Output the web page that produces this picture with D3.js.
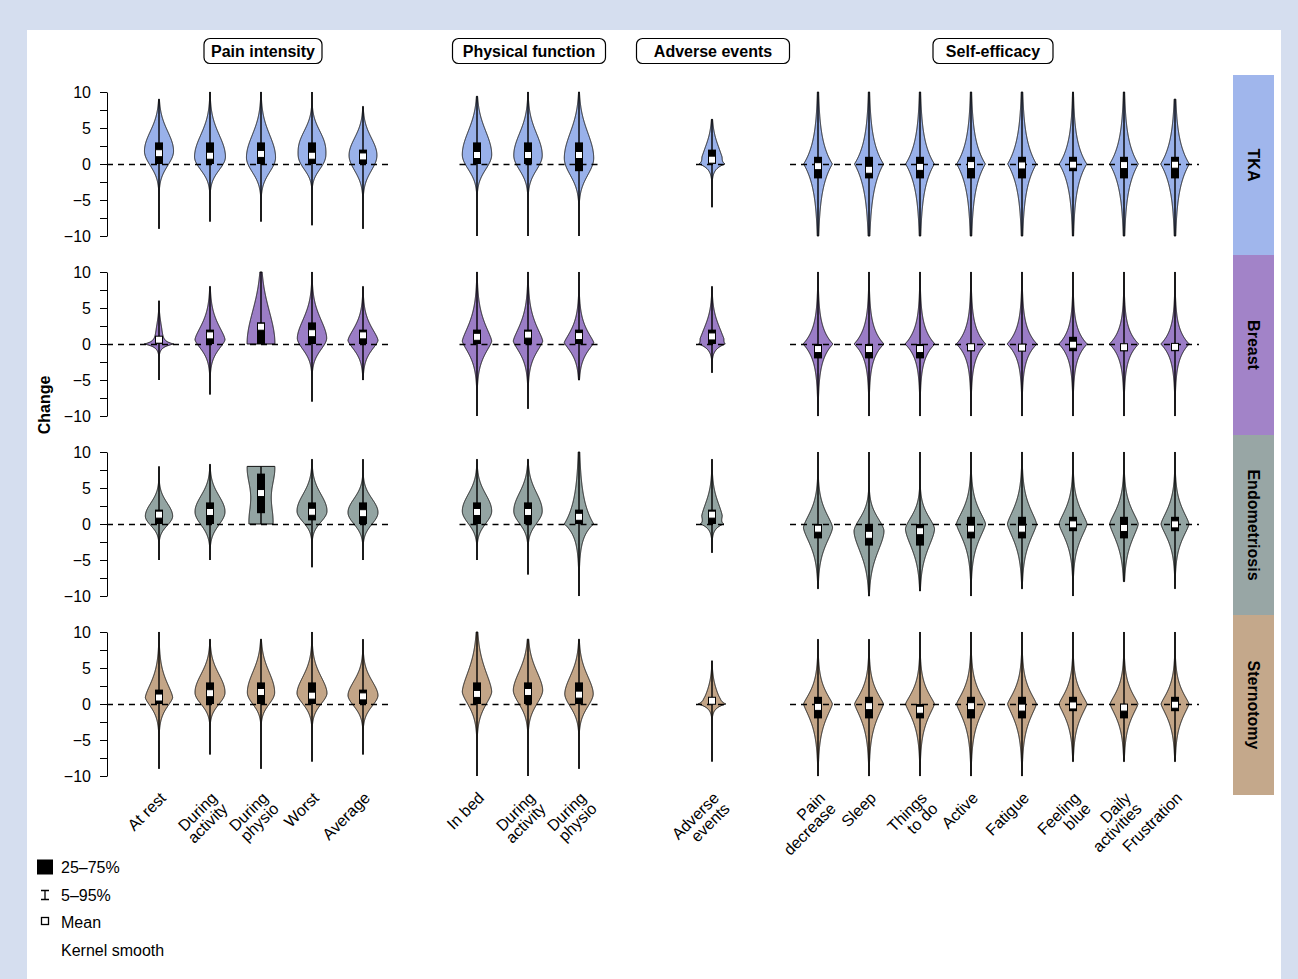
<!DOCTYPE html>
<html>
<head>
<meta charset="utf-8">
<script src="https://cdn.jsdelivr.net/npm/d3@7"></script>
<style>
  body { margin: 0; background: #fff; }
  svg { display: block; }
  text { font-family: "Liberation Sans", Arial, Helvetica, sans-serif; fill: #000; }
</style>
</head>
<body>
<svg id="chart" width="1298" height="979"></svg>
<script>
// ---- data -------------------------------------------------------------
const groups = ["Pain intensity", "Physical function", "Adverse events", "Self-efficacy"];
const groupSizes = [5, 3, 1, 8];
const categories = [
  "At rest", "During\nactivity", "During\nphysio", "Worst", "Average",
  "In bed", "During\nactivity", "During\nphysio",
  "Adverse\nevents",
  "Pain\ndecrease", "Sleep", "Things\nto do", "Active", "Fatigue", "Feeling\nblue", "Daily\nactivities", "Frustration"
];
const cohorts = ["TKA", "Breast", "Endometriosis", "Sternotomy"];
const yTickValues = [-10, -7.5, -5, -2.5, 0, 2.5, 5, 7.5, 10];
const yLabelled = [-10, -5, 0, 5, 10];

// 5th / 95th percentiles (whiskers), one row per cohort
const p5 = [
  [-9, -8, -8, -8.5, -9, -10, -10, -10, -6, -10, -10, -10, -10, -10, -10, -10, -10],
  [-5, -7, 0, -8, -5, -10, -9, -5, -4, -10, -10, -10, -10, -10, -10, -10, -10],
  [-5, -5, 0, -6, -5, -5, -7, -10, -4, -9, -10, -9.3, -10, -9, -10, -8, -9],
  [-9, -7, -9, -8, -7, -10, -10, -9, -8, -10, -10, -10, -10, -10, -8, -8, -8]
];
const p95 = [
  [9, 10, 10, 10, 8, 9.4, 10, 10, 6.2, 10, 10, 10, 10, 10, 10, 10, 9],
  [6, 8, 10, 10, 8, 10, 10, 10, 8, 10, 10, 10, 10, 10, 10, 10, 10],
  [8, 8.3, 8, 9, 9, 9, 9, 10, 9, 10, 10, 10, 10, 10, 10, 10, 10],
  [10, 9, 9, 10, 9, 10, 9, 9, 6, 9, 9, 10, 10, 10, 10, 10, 10]
];
// interquartile range
const q25 = [
  [0, 0, 0, 0, 0, 0, 0, -1, 0, -2, -2, -2, -2, -2, -1, -2, -2],
  [0, 0, 0, 0, 0, 0, 0, 0, 0, -2, -2, -2, -1, -1, -1, -1, -1],
  [0, 0, 1.5, 0.5, 0, 0, 0, 0, 0, -2, -3, -3, -2, -2, -1, -2, -1],
  [0, 0, 0, 0, 0, 0, 0, 0, 0, -2, -2, -2, -2, -2, -1, -2, -1]
];
const q75 = [
  [3, 3, 3, 3, 2, 3, 3, 3, 2, 1, 1, 1, 1, 1, 1, 1, 1],
  [1, 2, 3, 3, 2, 2, 2, 2, 2, 0, 0, 0, 0, 0, 1, 0, 0],
  [2, 3, 7, 3, 3, 3, 3, 2, 2, 0, 0, 0, 1, 1, 1, 1, 1],
  [2, 3, 3, 3, 2, 3, 3, 3, 0.9, 1, 1, 0, 1, 1, 1, 0, 1]
];
const means = [
  [1.5, 1.15, 1.4, 1.15, 1.05, 1.25, 1.25, 1.25, 0.6, -0.3, -0.8, -0.4, -0.15, -0.2, -0.1, -0.15, -0.1],
  [0.6, 1.2, 2.4, 1.5, 1.2, 1.0, 1.3, 1.1, 1.05, -0.7, -0.7, -0.7, -0.45, -0.5, -0.1, -0.45, -0.4],
  [1.3, 1.67, 4.3, 1.7, 1.5, 1.67, 1.67, 1.0, 1.3, -0.65, -1.5, -1.0, -0.65, -0.65, -0.05, -0.55, -0.05],
  [0.9, 1.5, 1.67, 1.16, 1.06, 1.4, 1.67, 1.3, 0.45, -0.4, -0.3, -0.8, -0.3, -0.5, -0.2, -0.5, -0.1]
];

// Kernel-smoothed density of each distribution, described as a sum of
// bumps: [centre, peak density, spread above, spread below, exponent]
const kernelTKA = [
  [[1.8, 0.97, 2.7, 2.0, 2]],
  [[1.0, 1.03, 3.0, 1.8, 2]],
  [[0.9, 0.97, 3.1, 2.0, 2]],
  [[1.5, 0.93, 2.9, 2.1, 2.4]],
  [[1.2, 0.93, 2.4, 2.1, 2]],
  [[1.3, 0.98, 3.2, 2.0, 2]],
  [[1.2, 0.95, 3.0, 2.0, 2]],
  [[0.8, 0.98, 3.5, 2.3, 2]],
  [[1.0, 0.6, 1.8, 1.0, 1.6], [0, 0.5, 0.25, 0.25, 1]],
  [[0, 0.96, 1.6, 1.7, 1]],
  [[0, 0.97, 1.6, 1.8, 1]],
  [[0, 0.96, 1.6, 1.7, 1]],
  [[0, 0.96, 1.6, 1.7, 1]],
  [[0, 0.96, 1.7, 1.7, 1]],
  [[0, 0.92, 1.5, 1.6, 1]],
  [[0, 0.96, 1.6, 1.7, 1]],
  [[0, 0.96, 1.6, 1.7, 1]]
];
const kernelBreast = [
  [[1.0, 0.22, 1.8, 1.0, 2], [0, 0.85, 0.2, 0.2, 1]],
  [[0.6, 1.0, 1.9, 1.3, 1.5]],
  [[0, 0.93, 4.5, 1.0, 2]],
  [[0.8, 0.98, 2.6, 1.6, 1.8]],
  [[0.5, 1.0, 1.7, 1.3, 1.5]],
  [[0.4, 0.98, 2.1, 1.6, 1.4]],
  [[0.4, 0.98, 2.0, 1.5, 1.4]],
  [[0.2, 0.98, 1.5, 1.2, 1.3]],
  [[0.8, 0.7, 1.9, 0.9, 1.6], [0, 0.42, 0.25, 0.25, 1]],
  [[0, 1.0, 1.1, 1.1, 1]],
  [[0, 1.0, 1.1, 1.0, 1]],
  [[0, 1.0, 1.1, 1.0, 1]],
  [[0, 0.98, 1.1, 1.0, 1]],
  [[0, 1.0, 1.1, 1.0, 1]],
  [[0, 0.95, 1.0, 1.0, 1]],
  [[0, 0.98, 1.0, 1.0, 1]],
  [[0, 0.95, 1.0, 1.0, 1]]
];
const kernelEndo = [
  [[1.1, 0.91, 1.8, 1.3, 2]],
  [[1.7, 1.0, 2.2, 1.8, 2]],
  [[0, 0.78, 3, 3, 2], [8, 0.9, 3, 3, 2]],
  [[1.8, 1.0, 2.3, 1.5, 2]],
  [[1.6, 1.0, 1.9, 1.6, 2]],
  [[1.8, 0.98, 2.3, 1.7, 2]],
  [[1.8, 0.95, 2.5, 1.7, 2]],
  [[0, 0.98, 1.7, 0.9, 1]],
  [[1.2, 0.64, 1.9, 1.0, 1.6], [0, 0.45, 0.25, 0.25, 1]],
  [[-0.5, 0.97, 1.9, 2.1, 1.5]],
  [[-1.0, 1.0, 1.8, 2.8, 1.7]],
  [[-0.7, 0.97, 1.7, 2.5, 1.6]],
  [[0, 0.97, 1.8, 2.0, 1.4]],
  [[0, 0.97, 2.0, 2.1, 1.4]],
  [[0, 0.93, 1.8, 1.9, 1.4]],
  [[0, 0.95, 1.8, 2.1, 1.4]],
  [[0, 0.93, 1.8, 1.8, 1.4]]
];
const kernelStern = [
  [[0.9, 0.91, 2.0, 1.3, 1.5]],
  [[1.6, 1.0, 2.5, 1.6, 2]],
  [[1.6, 0.91, 2.8, 1.6, 2]],
  [[1.5, 1.0, 2.3, 1.5, 1.8]],
  [[1.2, 1.0, 2.0, 1.5, 1.8]],
  [[1.7, 0.98, 2.8, 1.8, 1.6]],
  [[1.9, 0.98, 2.6, 1.9, 1.8]],
  [[1.4, 0.95, 2.5, 1.8, 1.8]],
  [[0.8, 0.4, 1.5, 0.8, 1.6], [0, 0.68, 0.25, 0.25, 1]],
  [[0, 0.96, 1.5, 1.9, 1.3]],
  [[0, 0.96, 1.5, 1.9, 1.3]],
  [[0, 0.96, 1.5, 1.8, 1.3]],
  [[0, 0.96, 1.6, 1.9, 1.3]],
  [[0, 0.96, 1.6, 1.9, 1.3]],
  [[0, 0.93, 1.5, 1.7, 1.3]],
  [[0, 0.93, 1.5, 1.7, 1.3]],
  [[0, 0.93, 1.5, 1.7, 1.3]]
];
const kernels = [kernelTKA, kernelBreast, kernelEndo, kernelStern];

const violinFill = ["#99b1ea", "#9b7dc6", "#93a4a2", "#c3a587"];
const stripFill  = ["#a0b6ec", "#a283c8", "#98a6a5", "#c4a88b"];

// ---- layout -----------------------------------------------------------
const W = 1298, H = 979;
const rowTop = 92, rowH = 144, rowGap = 180;
const axisX = 107;
const step = 51;
const groupCentre = [261, 528, 712, 996.5];
const headerW = [118, 153, 153, 120];
const zeroPad = [[52, 27], [17.5, 20], [16, 17], [28, 24]];
const stripX = 1233, stripW = 41;
const maxHalf = 15;

const svg = d3.select("#chart");

// page frame
svg.append("rect").attr("width", W).attr("height", H).attr("fill", "#d5deef");
svg.append("rect").attr("x", 27).attr("y", 30).attr("width", 1254).attr("height", H - 30).attr("fill", "#fff");

// x scales, one per group
let offset = 0;
const groupInfo = groups.map((g, gi) => {
  const cats = d3.range(offset, offset + groupSizes[gi]);
  offset += groupSizes[gi];
  const half = step * (cats.length - 1) / 2;
  const x = d3.scalePoint().domain(cats).range([groupCentre[gi] - half, groupCentre[gi] + half]);
  return { name: g, cats, x };
});
const xOf = i => { const g = groupInfo.find(G => G.cats.includes(i)); return g.x(i); };

const halfWidth = d3.scaleLinear().domain([0, 1]).range([0, maxHalf]);

function density(comps, v) {
  let s = 0;
  for (const [c, a, su, sd, p] of comps) {
    const sc = v >= c ? su : sd;
    s += a * Math.exp(-0.5 * Math.pow(Math.abs(v - c) / sc, p));
  }
  return s;
}

// group headers
groupInfo.forEach((g, gi) => {
  const cx = groupCentre[gi] + (gi === 0 ? 2 : gi === 3 ? -3.5 : 1);
  const hg = svg.append("g");
  hg.append("rect")
    .attr("x", cx - headerW[gi] / 2).attr("y", 38.5)
    .attr("width", headerW[gi]).attr("height", 25)
    .attr("rx", 6).attr("fill", "#fff").attr("stroke", "#000").attr("stroke-width", 1.2);
  hg.append("text").attr("x", cx).attr("y", 56.5)
    .attr("text-anchor", "middle").attr("font-weight", "bold").attr("font-size", 16)
    .text(g.name);
});

// rows
cohorts.forEach((cohort, r) => {
  const top = rowTop + r * rowGap;
  const y = d3.scaleLinear().domain([-10, 10]).range([top + rowH, top]);
  const row = svg.append("g");

  // y axis
  const axis = d3.axisLeft(y).tickValues(yTickValues)
    .tickFormat(d => yLabelled.includes(d) ? d3.format("d")(d) : "")
    .tickSize(7).tickSizeOuter(0).tickPadding(9);
  const ag = row.append("g").attr("transform", `translate(${axisX},0)`).call(axis);
  ag.selectAll("text").attr("font-size", 16).attr("font-family", "'Liberation Sans', Arial, sans-serif");
  ag.selectAll("path,line").attr("stroke", "#000").attr("stroke-width", 1);

  // violins
  const vg = row.append("g");
  categories.forEach((cat, i) => {
    const cx = xOf(i);
    const lo = p5[r][i], hi = p95[r][i];
    const comps = kernels[r][i];
    const pts = d3.range(lo, hi, 0.04).concat([hi]).map(v => ({ v, w: halfWidth(density(comps, v)) }));
    const area = d3.area()
      .x0(d => cx - d.w).x1(d => cx + d.w).y(d => y(d.v))
      .curve(d3.curveLinear);
    vg.append("path").attr("d", area(pts))
      .attr("fill", violinFill[r]).attr("stroke", "#111").attr("stroke-width", 1)
      .attr("stroke-linejoin", "round");
  });

  // zero reference lines
  const y0 = Math.round(y(0)) + 0.5;
  groupInfo.forEach((g, gi) => {
    const x0 = g.x(g.cats[0]) - zeroPad[gi][0];
    const x1 = g.x(g.cats[g.cats.length - 1]) + zeroPad[gi][1];
    row.append("line").attr("x1", x0).attr("x2", x1).attr("y1", y0).attr("y2", y0)
      .attr("stroke", "#000").attr("stroke-width", 1.3).attr("stroke-dasharray", "6,5");
  });

  // whiskers, boxes and means
  const mg = row.append("g");
  categories.forEach((cat, i) => {
    const cx = xOf(i);
    mg.append("line").attr("x1", cx).attr("x2", cx)
      .attr("y1", y(p95[r][i])).attr("y2", y(p5[r][i]))
      .attr("stroke", "#000").attr("stroke-width", 1.4);
    mg.append("rect").attr("x", cx - 4).attr("width", 8)
      .attr("y", y(q75[r][i])).attr("height", y(q25[r][i]) - y(q75[r][i]))
      .attr("fill", "#000");
    mg.append("rect").attr("x", cx - 3.5).attr("width", 7)
      .attr("y", y(means[r][i]) - 3.5).attr("height", 7)
      .attr("fill", "#fff").attr("stroke", "#000").attr("stroke-width", 1);
  });

  // cohort strip
  const sy = top - 17;
  row.append("rect").attr("x", stripX).attr("y", sy).attr("width", stripW).attr("height", rowGap)
    .attr("fill", stripFill[r]);
  row.append("text")
    .attr("transform", `translate(${stripX + stripW / 2},${sy + rowGap / 2}) rotate(90)`)
    .attr("text-anchor", "middle").attr("dominant-baseline", "central")
    .attr("font-weight", "bold").attr("font-size", 16).text(cohort);
});

// x labels
const lastTop = rowTop + 3 * rowGap + rowH;
categories.forEach((cat, i) => {
  const cx = xOf(i);
  const t = svg.append("text")
    .attr("transform", `translate(${cx + 8},${lastTop + 23}) rotate(-45)`)
    .attr("text-anchor", "end").attr("font-size", 16);
  cat.split("\n").forEach((line, k) => {
    t.append("tspan").attr("x", 0).attr("dy", k ? "0.95em" : 0).text(line);
  });
});

// y title
svg.append("text").attr("transform", "translate(50,405) rotate(-90)")
  .attr("text-anchor", "middle").attr("font-weight", "bold").attr("font-size", 16).text("Change");

// legend
const lg = svg.append("g");
lg.append("rect").attr("x", 37).attr("y", 859.5).attr("width", 16).attr("height", 15).attr("fill", "#000");
lg.append("path").attr("d", "M41,890.5H49M45,890.5V899.5M41,899.5H49")
  .attr("stroke", "#000").attr("stroke-width", 1.3).attr("fill", "none");
lg.append("rect").attr("x", 41.5).attr("y", 917.5).attr("width", 7).attr("height", 7)
  .attr("fill", "#fff").attr("stroke", "#000").attr("stroke-width", 1.3);
["25–75%", "5–95%", "Mean", "Kernel smooth"].forEach((s, k) => {
  lg.append("text").attr("x", 61).attr("y", 873 + k * 27.5).attr("font-size", 16).text(s);
});
</script>
</body>
</html>
